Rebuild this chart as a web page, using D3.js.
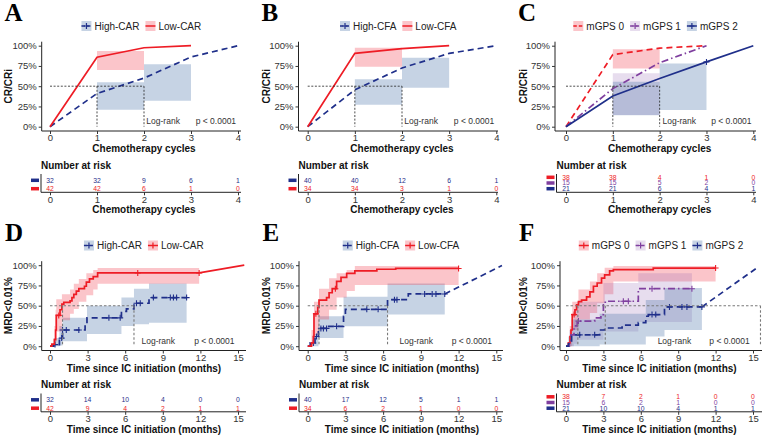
<!DOCTYPE html>
<html>
<head>
<meta charset="utf-8">
<script src="https://cdn.jsdelivr.net/npm/d3@7"></script>
<style>
  html, body { margin: 0; padding: 0; background: #fff; }
  svg { display: block; }
</style>
</head>
<body>
<svg id="fig" width="767" height="439"></svg>
<script>
const sans = "'Liberation Sans', Arial, Helvetica, sans-serif"
const serif = "'Liberation Serif', 'Times New Roman', serif"

const navy = '#1f2f8a'
const red = '#ee1c25'
const purple = '#7f3f9f'
const blueFill = { c: '#4f77aa', o: 0.32 }
const redFill = { c: '#ef3040', o: 0.28 }
const purpleFill = { c: '#9262b2', o: 0.22 }
const dashed = '6,4'
const dotdash = '7,3,1.5,3'

// ticks
const cycleTicks = [0, 1, 2, 3, 4]
const monthTicks = [0, 3, 6, 9, 12, 15]
const pctTicks = [0, 0.25, 0.5, 0.75, 1]

// A - CR/CRi by CAR
const aHigh = [[0, 0], [1, 0.41], [2, 0.6], [3, 0.86], [4, 1]]
const aLow = [[0, 0], [1, 0.857], [2, 0.975], [3, 1]]
const aHighBand = [[1, 0.21, 0.55], [2, 0.32, 0.77], [3, 0.32, 0.77]]
const aLowBand = [[1, 0.7, 0.935], [2, 0.7, 0.935]]
const aHighRisk = [32, 32, 9, 6, 1]
const aLowRisk = [42, 42, 6, 1, 0]
const aMedians = [1, 2]

// B - CR/CRi by CFA
const bHigh = [[0, 0], [1, 0.455], [2, 0.725], [3, 0.905], [4, 1]]
const bLow = [[0, 0], [1, 0.905], [2, 0.965], [3, 1]]
const bHighBand = [[1, 0.27, 0.585], [2, 0.48, 0.85], [3, 0.48, 0.85]]
const bLowBand = [[1, 0.74, 0.975], [2, 0.74, 0.975]]
const bHighRisk = [40, 40, 12, 6, 1]
const bLowRisk = [34, 34, 3, 1, 0]
const bMedians = [1, 2]

// C - CR/CRi by mGPS
const cGps0 = [[0, 0], [1, 0.89], [2, 0.97], [3, 1]]
const cGps1 = [[0, 0], [1, 0.47], [2, 0.79], [3, 1]]
const cGps2 = [[0, 0], [1, 0.38], [2, 0.595], [3, 0.8], [4, 1]]
const cBand0 = [[1, 0.72, 0.955], [2, 0.72, 0.955]]
const cBand1 = [[1, 0.145, 0.66], [2, 0.145, 0.66]]
const cBand2 = [[1, 0.14, 0.555], [2, 0.205, 0.78], [3, 0.205, 0.78]]
const cCens2 = [3]
const cRisk0 = [38, 38, 4, 1, 0]
const cRisk1 = [15, 15, 5, 2, 0]
const cRisk2 = [21, 21, 6, 4, 1]
const cMedians = [1, 2]

// D - MRD<0.01% by CAR
const dHigh = [[0, 0], [0.3, 0.02], [0.75, 0.1], [1, 0.2], [2.8, 0.27], [2.95, 0.35], [5.7, 0.43], [6.1, 0.46], [6.7, 0.53], [7.9, 0.57], [8.15, 0.6], [10.9, 0.6]]
const dHighCens = [0.4, 0.93, 1.0, 1.3, 2.3, 4.7, 5.6, 6.9, 7.2, 8.25, 9.6, 9.85, 10.1, 10.9]
const dLow = [[0, 0], [0.15, 0.025], [0.35, 0.08], [0.45, 0.2], [0.5, 0.38], [0.8, 0.45], [0.95, 0.52], [1.1, 0.54], [1.6, 0.56], [1.75, 0.6], [1.9, 0.64], [2.1, 0.68], [2.3, 0.71], [2.75, 0.74], [2.9, 0.79], [3.15, 0.83], [3.45, 0.86], [3.8, 0.905], [11.9, 0.905]]
const dLowTail = [15.5, 1]
const dLowCens = [0.7, 7.0, 11.9]
const dHighBand = [[0.3, 0, 0.1], [0.75, 0.01, 0.25], [1, 0.06, 0.35], [2.95, 0.15, 0.5], [5.7, 0.25, 0.6], [6.7, 0.27, 0.71], [7.9, 0.29, 0.775], [10.9, 0.29, 0.775]]
const dLowBand = [[0.35, 0, 0.25], [0.45, 0.05, 0.45], [0.5, 0.18, 0.58], [0.95, 0.32, 0.64], [1.6, 0.4, 0.7], [1.9, 0.46, 0.77], [2.3, 0.55, 0.83], [2.9, 0.63, 0.9], [3.45, 0.7, 0.94], [3.8, 0.77, 0.965], [11.9, 0.77, 0.965]]
const dHighRisk = [32, 14, 10, 4, 0, 0]
const dLowRisk = [42, 9, 4, 2, 1, 1]
const dMedians = [1.0, 6.7]

// E - MRD<0.01% by CFA
const eHigh = [[0, 0], [0.2, 0.04], [0.58, 0.12], [0.85, 0.22], [1.6, 0.245], [2.85, 0.37], [3.0, 0.455], [6.35, 0.575], [8.0, 0.645], [10.9, 0.645]]
const eHighTail = [15.45, 0.995]
const eHighCens = [0.45, 0.7, 1.05, 1.25, 1.5, 2.3, 4.7, 5.6, 6.9, 7.1, 9.3, 9.9, 10.2, 10.9]
const eLow = [[0, 0], [0.3, 0.04], [0.45, 0.12], [0.5, 0.4], [0.8, 0.48], [0.9, 0.57], [1.5, 0.6], [1.7, 0.66], [1.95, 0.71], [2.3, 0.8], [2.65, 0.85], [3.1, 0.9], [3.75, 0.93], [5.5, 0.95], [7.0, 0.96], [12.0, 0.96]]
const eLowCens = [0.65, 2.2, 12.0]
const eHighBand = [[0.45, 0, 0.15], [0.85, 0.1, 0.37], [2.85, 0.245, 0.61], [6.35, 0.39, 0.775], [10.9, 0.39, 0.775]]
const eLowBand = [[0.3, 0, 0.2], [0.5, 0.14, 0.55], [0.9, 0.33, 0.71], [1.7, 0.45, 0.84], [2.3, 0.6, 0.9], [3.1, 0.68, 0.94], [3.75, 0.755, 0.99], [12.0, 0.755, 0.99]]
const eHighRisk = [40, 17, 12, 5, 1, 1]
const eLowRisk = [34, 6, 2, 1, 0, 0]
const eMedians = [0.9, 6.35]

// F - MRD<0.01% by mGPS
const fGps0 = [[0, 0], [0.19, 0.04], [0.32, 0.12], [0.4, 0.2], [0.5, 0.39], [0.72, 0.45], [0.85, 0.51], [1.0, 0.55], [1.25, 0.57], [1.65, 0.61], [1.92, 0.67], [2.2, 0.74], [2.5, 0.78], [2.85, 0.84], [3.1, 0.88], [3.5, 0.93], [3.8, 0.945], [7.0, 0.965], [12.0, 0.965]]
const fCens0 = [0.65, 12.0]
const fGps1 = [[0, 0], [0.27, 0.06], [0.4, 0.14], [0.64, 0.25], [0.9, 0.31], [2.3, 0.35], [2.8, 0.39], [3.0, 0.51], [3.15, 0.555], [5.8, 0.71], [10.1, 0.71]]
const fCens1 = [1.0, 4.6, 5.0, 6.9, 10.1]
const fGps2 = [[0, 0], [0.19, 0.03], [0.45, 0.14], [2.7, 0.2], [3.1, 0.225], [4.5, 0.26], [5.8, 0.29], [6.4, 0.37], [6.6, 0.39], [7.9, 0.485], [10.9, 0.485]]
const fTail2 = [15.3, 0.965]
const fCens2 = [1.1, 2.3, 6.9, 7.2, 8.3, 9.3, 9.7, 10.9]
const fBand0 = [[0.3, 0, 0.25], [0.5, 0.2, 0.55], [1.0, 0.33, 0.7], [1.92, 0.41, 0.8], [2.5, 0.53, 0.9], [3.1, 0.64, 0.97], [3.8, 0.8, 0.99], [12.0, 0.8, 0.99]]
const fBand1 = [[0.27, 0, 0.2], [0.64, 0.03, 0.45], [0.9, 0.08, 0.55], [3.0, 0.18, 0.78], [5.8, 0.3, 0.9], [10.1, 0.3, 0.9]]
const fBand2 = [[0.19, 0, 0.12], [0.45, 0, 0.33], [2.7, 0.02, 0.4], [6.4, 0.12, 0.57], [7.9, 0.2, 0.72], [10.9, 0.2, 0.72]]
const fRisk0 = [38, 7, 2, 1, 0, 0]
const fRisk1 = [15, 6, 2, 1, 0, 0]
const fRisk2 = [21, 10, 10, 4, 1, 1]
const fMedians = [0.95, 3.15, 15.6]

const panels = [
	{
		letter: 'A', row: 0, letterX: 4.5, axisX: 41.7, riskAxisX: 41, x0: 50, xEnd: 238, right: 241, ylabX: 11.7,
		ticks: cycleTicks, step: false, ylab: 'CR/CRi', xlab: 'Chemotherapy cycles', medians: aMedians, logX: 2.05, pX: 3.1,
		groups: [
			{ label: 'High-CAR', color: navy, fill: blueFill, dash: dashed, pts: aHigh, band: aHighBand, risk: aHighRisk, mark: true },
			{ label: 'Low-CAR', color: red, fill: redFill, dash: null, pts: aLow, band: aLowBand, risk: aLowRisk, mark: false }
		]
	},
	{
		letter: 'B', row: 0, letterX: 261.5, axisX: 298.5, riskAxisX: 298.5, x0: 307.7, xEnd: 496.3, right: 498, ylabX: 270,
		ticks: cycleTicks, step: false, ylab: 'CR/CRi', xlab: 'Chemotherapy cycles', medians: bMedians, logX: 2.05, pX: 3.1,
		groups: [
			{ label: 'High-CFA', color: navy, fill: blueFill, dash: dashed, pts: bHigh, band: bHighBand, risk: bHighRisk, mark: true },
			{ label: 'Low-CFA', color: red, fill: redFill, dash: null, pts: bLow, band: bLowBand, risk: bLowRisk, mark: false }
		]
	},
	{
		letter: 'C', row: 0, letterX: 518, axisX: 555, riskAxisX: 556.5, x0: 566, xEnd: 753.3, right: 756, ylabX: 527,
		ticks: cycleTicks, step: false, ylab: 'CR/CRi', xlab: 'Chemotherapy cycles', medians: cMedians, logX: 2.06, pX: 3.1,
		groups: [
			{ label: 'mGPS 0', color: red, fill: redFill, dash: dashed, pts: cGps0, band: cBand0, risk: cRisk0, mark: false },
			{ label: 'mGPS 1', color: purple, fill: purpleFill, dash: dotdash, pts: cGps1, band: cBand1, risk: cRisk1, mark: true },
			{ label: 'mGPS 2', color: navy, fill: blueFill, dash: null, pts: cGps2, band: cBand2, risk: cRisk2, mark: true, censor: cCens2 }
		]
	},
	{
		letter: 'D', row: 1, letterX: 5, axisX: 41.7, riskAxisX: 41, x0: 50, xEnd: 238, right: 246, ylabX: 11.7,
		ticks: monthTicks, step: true, ylab: 'MRD<0.01%', xlab: 'Time since IC initiation (months)', medians: dMedians, logX: 7.3, pX: 11.5,
		groups: [
			{ label: 'High-CAR', color: navy, fill: blueFill, dash: dashed, pts: dHigh, band: dHighBand, risk: dHighRisk, mark: true, censor: dHighCens },
			{ label: 'Low-CAR', color: red, fill: redFill, dash: null, pts: dLow, band: dLowBand, risk: dLowRisk, mark: true, censor: dLowCens, tail: dLowTail }
		]
	},
	{
		letter: 'E', row: 1, letterX: 262.5, axisX: 299, riskAxisX: 299, x0: 307.7, xEnd: 496.3, right: 503, ylabX: 270,
		ticks: monthTicks, step: true, ylab: 'MRD<0.01%', xlab: 'Time since IC initiation (months)', medians: eMedians, logX: 7.3, pX: 11.45,
		groups: [
			{ label: 'High-CFA', color: navy, fill: blueFill, dash: dashed, pts: eHigh, band: eHighBand, risk: eHighRisk, mark: true, censor: eHighCens, tail: eHighTail },
			{ label: 'Low-CFA', color: red, fill: redFill, dash: null, pts: eLow, band: eLowBand, risk: eLowRisk, mark: true, censor: eLowCens }
		]
	},
	{
		letter: 'F', row: 1, letterX: 519, axisX: 560, riskAxisX: 556.5, x0: 566, xEnd: 753, right: 762, ylabX: 527,
		ticks: monthTicks, step: true, ylab: 'MRD<0.01%', xlab: 'Time since IC initiation (months)', medians: fMedians, logX: 7.35, pX: 11.5,
		groups: [
			{ label: 'mGPS 0', color: red, fill: redFill, dash: null, pts: fGps0, band: fBand0, risk: fRisk0, mark: true, censor: fCens0 },
			{ label: 'mGPS 1', color: purple, fill: purpleFill, dash: dotdash, pts: fGps1, band: fBand1, risk: fRisk1, mark: true, censor: fCens1 },
			{ label: 'mGPS 2', color: navy, fill: blueFill, dash: dashed, pts: fGps2, band: fBand2, risk: fRisk2, mark: true, censor: fCens2, tail: fTail2 }
		]
	}
]

const svg = d3.select('#fig').attr('font-family', sans)

function stepAt(pts, t) {
	let v = pts[0][1]
	for (const p of pts) if (p[0] <= t) v = p[1]
	return v
}

function styleAxis(a) {
	a.attr('font-family', sans).attr('font-size', 9.5)
	a.select('.domain').remove()
	a.selectAll('.tick line').attr('stroke', '#333')
	a.selectAll('.tick text').attr('fill', '#333')
}

function drawPanel(p) {
	const dy = p.row * 219.5
	const top = 45.7 + dy
	const zero = 126.7 + dy
	const axisY = 131 + dy
	const x = d3.scaleLinear().domain([0, d3.max(p.ticks)]).range([p.x0, p.xEnd])
	const y = d3.scaleLinear().domain([0, 1]).range([zero, top])
	const g = svg.append('g')

	g.append('text')
		.attr('x', p.letterX)
		.attr('y', 21 + dy)
		.attr('font-family', serif)
		.attr('font-weight', 'bold')
		.attr('font-size', 25)
		.text(p.letter)

	// legend
	const leg = g.append('g')
	let cx = 0
	p.groups.forEach((gr) => {
		const item = leg.append('g').attr('transform', `translate(${cx},0)`)
		item.append('rect')
			.attr('y', -5).attr('width', 10).attr('height', 10)
			.attr('fill', gr.fill.c).attr('fill-opacity', gr.fill.o)
		item.append('line')
			.attr('x1', 0).attr('x2', 10)
			.attr('stroke', gr.color).attr('stroke-width', 1.5)
			.attr('stroke-dasharray', gr.dash ? '3.5,2' : null)
		if (gr.mark) {
			item.append('path').attr('d', 'M5,-3V3M2.5,0H7.5').attr('stroke', gr.color).attr('stroke-width', 1.2)
		}
		const t = item.append('text')
			.attr('x', 13).attr('dy', '0.35em')
			.attr('font-size', 10).attr('fill', '#222')
			.text(gr.label)
		cx += 13 + t.node().getComputedTextLength() + 6
	})
	leg.attr('transform', `translate(${(p.axisX + p.right) / 2 - (cx - 6) / 2},${26 + dy})`)

	// confidence bands
	const area = d3.area()
		.curve(d3.curveStepAfter)
		.x((d) => x(d[0]))
		.y0((d) => y(d[1]))
		.y1((d) => y(d[2]))
	p.groups.forEach((gr) => {
		g.append('path').datum(gr.band)
			.attr('d', area)
			.attr('fill', gr.fill.c).attr('fill-opacity', gr.fill.o)
	})

	// curves
	const line = d3.line()
		.x((d) => x(d[0])).y((d) => y(d[1]))
		.curve(p.step ? d3.curveStepAfter : d3.curveLinear)
	const straight = d3.line().x((d) => x(d[0])).y((d) => y(d[1]))
	p.groups.forEach((gr) => {
		g.append('path').datum(gr.pts)
			.attr('d', line)
			.attr('fill', 'none').attr('stroke', gr.color)
			.attr('stroke-width', 1.7).attr('stroke-dasharray', gr.dash)
		if (gr.tail) {
			g.append('path').datum([gr.pts[gr.pts.length - 1], gr.tail])
				.attr('d', straight)
				.attr('fill', 'none').attr('stroke', gr.color)
				.attr('stroke-width', 1.7).attr('stroke-dasharray', gr.dash)
		}
		g.selectAll(null).data(gr.censor || []).join('path')
			.attr('transform', (t) => `translate(${x(t)},${y(stepAt(gr.pts, t))})`)
			.attr('d', 'M-3,0H3M0,-3V3')
			.attr('stroke', gr.color).attr('stroke-width', 1.1)
	})

	// median lines
	const med = g.append('g')
		.attr('fill', 'none')
		.attr('stroke', p.step ? '#7a7a7a' : '#222')
		.attr('stroke-width', p.step ? 1.1 : 0.8)
		.attr('stroke-dasharray', p.step ? '2.5,2' : '2,1.6')
	med.append('path').datum([[0, 0.5], [d3.max(p.medians), 0.5]]).attr('d', straight)
	p.medians.forEach((m) => {
		med.append('path').datum([[m, 0.5], [m, 0]]).attr('d', straight)
	})

	g.append('text')
		.attr('x', x(p.logX)).attr('y', y(0.03))
		.attr('font-size', 8.5).attr('fill', '#333')
		.text('Log-rank')
	g.append('text')
		.attr('x', x(p.pX)).attr('y', y(0.03))
		.attr('font-size', 8.5).attr('fill', '#333')
		.text('p < 0.0001')

	// axes
	const frame = g.append('g').attr('stroke', '#222').attr('stroke-width', 1)
	frame.append('line').attr('x1', p.axisX).attr('x2', p.axisX).attr('y1', 41.7 + dy).attr('y2', axisY)
	frame.append('line').attr('x1', p.axisX).attr('x2', p.right).attr('y1', axisY).attr('y2', axisY)

	g.append('g')
		.attr('transform', `translate(0,${axisY})`)
		.call(d3.axisBottom(x).tickValues(p.ticks).tickFormat(d3.format('d')).tickSize(3).tickPadding(0.5))
		.call(styleAxis)
	g.append('g')
		.attr('transform', `translate(${p.axisX},0)`)
		.call(d3.axisLeft(y).tickValues(pctTicks).tickFormat(d3.format('.0%')).tickSize(3).tickPadding(2))
		.call(styleAxis)

	g.append('text')
		.attr('x', (p.x0 + p.xEnd) / 2).attr('y', 152 + dy)
		.attr('text-anchor', 'middle')
		.attr('font-weight', 'bold').attr('font-size', 10).attr('fill', '#111')
		.text(p.xlab)
	g.append('text')
		.attr('transform', `translate(${p.ylabX},${(top + zero) / 2}) rotate(-90)`)
		.attr('text-anchor', 'middle')
		.attr('font-weight', 'bold').attr('font-size', 10).attr('fill', '#111')
		.text(p.ylab)

	// number at risk table
	const rAx = p.riskAxisX
	const rAxisY = 192.3 + dy
	g.append('text')
		.attr('x', rAx).attr('y', 168.5 + dy)
		.attr('font-weight', 'bold').attr('font-size', 10).attr('fill', '#111')
		.text('Number at risk')
	const rows = p.groups.length === 3 ? [177.3, 183, 188.7] : [180.3, 188.7]
	p.groups.forEach((gr, i) => {
		const ry = rows[i] + dy
		g.append('rect')
			.attr('x', rAx - 10).attr('y', ry - 1.75)
			.attr('width', 8).attr('height', 3.5)
			.attr('fill', gr.color)
		g.selectAll(null).data(gr.risk).join('text')
			.attr('x', (d, j) => x(p.ticks[j]))
			.attr('y', ry).attr('dy', '0.35em')
			.attr('text-anchor', 'middle')
			.attr('font-size', 6.8).attr('fill', gr.color)
			.text((d) => d)
	})
	const rframe = g.append('g').attr('stroke', '#222').attr('stroke-width', 1)
	rframe.append('line').attr('x1', rAx).attr('x2', rAx).attr('y1', 174 + dy).attr('y2', rAxisY)
	rframe.append('line').attr('x1', rAx).attr('x2', p.right).attr('y1', rAxisY).attr('y2', rAxisY)
	g.append('g')
		.attr('transform', `translate(0,${rAxisY})`)
		.call(d3.axisBottom(x).tickValues(p.ticks).tickFormat(d3.format('d')).tickSize(3).tickPadding(0.5))
		.call(styleAxis)
	g.append('text')
		.attr('x', (p.x0 + p.xEnd) / 2).attr('y', 213.3 + dy)
		.attr('text-anchor', 'middle')
		.attr('font-weight', 'bold').attr('font-size', 10).attr('fill', '#111')
		.text(p.xlab)
}

panels.forEach(drawPanel)
</script>
</body>
</html>
